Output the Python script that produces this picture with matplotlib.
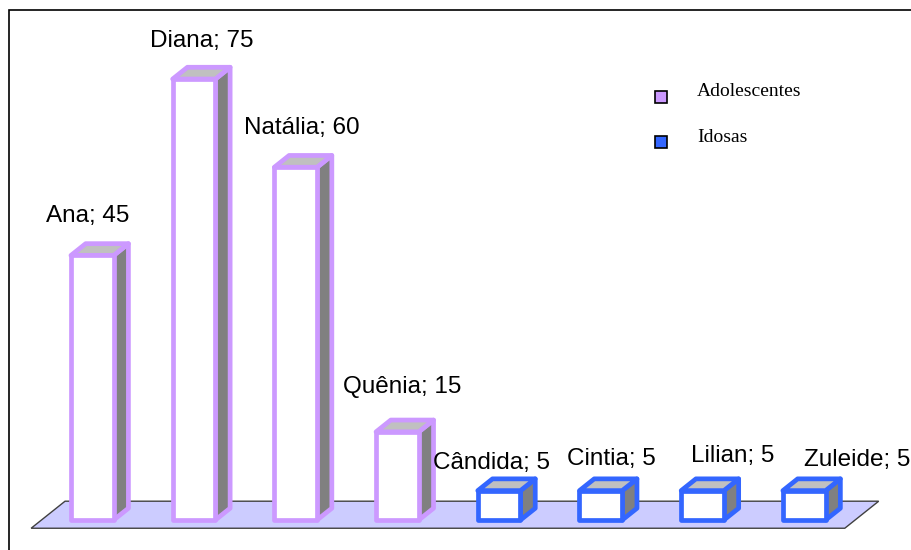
import matplotlib
matplotlib.use("Agg")
import matplotlib.pyplot as plt
from matplotlib.patches import Polygon, Rectangle

names = ["Ana", "Diana", "Natália", "Quênia", "Cândida", "Cintia", "Lilian", "Zuleide"]
values = [45, 75, 60, 15, 5, 5, 5, 5]
groups = ["Adolescentes"] * 4 + ["Idosas"] * 4
group_names = ["Adolescentes", "Idosas"]
group_colors = {"Adolescentes": "#CC99FF", "Idosas": "#3366FF"}

# label offsets in pixels (excel put them a bit irregularly)
label_dx = [-5, 8, 6, 5, -8, 11, 30, 53]
label_dy = [33, 32, 33, 39, 22, 26, 29, 25]

W, H = 912, 550
fig = plt.figure(figsize=(W / 100, H / 100), dpi=100)
ax = fig.add_axes([0, 0, 1, 1])
ax.set_xlim(-0.9076, 8.0594)
ax.set_ylim(-5.10, 88.44)
ax.axis("off")

bar_w = 0.42
ddx, ddy = 0.145, 2.0  # one step of depth, in data units

# floor
x0, x1 = -0.5, len(values) - 0.5
f0, f1 = -0.7, 1.6
floor = Polygon(
    [
        (x0 + f0 * ddx, f0 * ddy),
        (x1 + f0 * ddx, f0 * ddy),
        (x1 + f1 * ddx, f1 * ddy),
        (x0 + f1 * ddx, f1 * ddy),
    ],
    closed=True,
    facecolor="#CCCCFF",
    edgecolor="#404040",
    lw=1,
)
ax.add_patch(floor)

for i, (n, v, g) in enumerate(zip(names, values, groups)):
    c = group_colors[g]
    left, right = i - bar_w / 2, i + bar_w / 2
    side = [(right, 0), (right + ddx, ddy), (right + ddx, v + ddy), (right, v)]
    top = [(left, v), (right, v), (right + ddx, v + ddy), (left + ddx, v + ddy)]
    front = [(left, 0), (right, 0), (right, v), (left, v)]
    for pts, fc in [(side, "#808080"), (top, "#C0C0C0"), (front, "white")]:
        ax.add_patch(
            Polygon(pts, closed=True, facecolor=fc, edgecolor=c, lw=3.4,
                    joinstyle="round")
        )
    ax.annotate(
        f"{n}; {v}",
        xy=(i, v),
        xytext=(label_dx[i], label_dy[i]),
        textcoords="offset pixels",
        ha="center",
        va="baseline",
        fontsize=17.5,
        family="Liberation Sans",
    )

# frame (only top and left show inside the picture)
fig.add_artist(
    Rectangle((9 / W, -0.1), 1.2, 1 - 9.5 / H + 0.1, transform=fig.transFigure,
              fill=False, ec="black", lw=1.2)
)

# legend
for k, g in enumerate(group_names):
    sq_top = 91 + 45 * k
    fig.add_artist(
        Rectangle((655 / W, 1 - (sq_top + 12) / H), 12 / W, 12 / H,
                  transform=fig.transFigure, fc=group_colors[g], ec="black", lw=1.2)
    )
    fig.text(697 / W, 1 - (96 + 45.5 * k) / H, g, va="baseline", ha="left",
             fontsize=14, family="Liberation Serif")

plt.savefig("out.png", dpi=100)
plt.close()
